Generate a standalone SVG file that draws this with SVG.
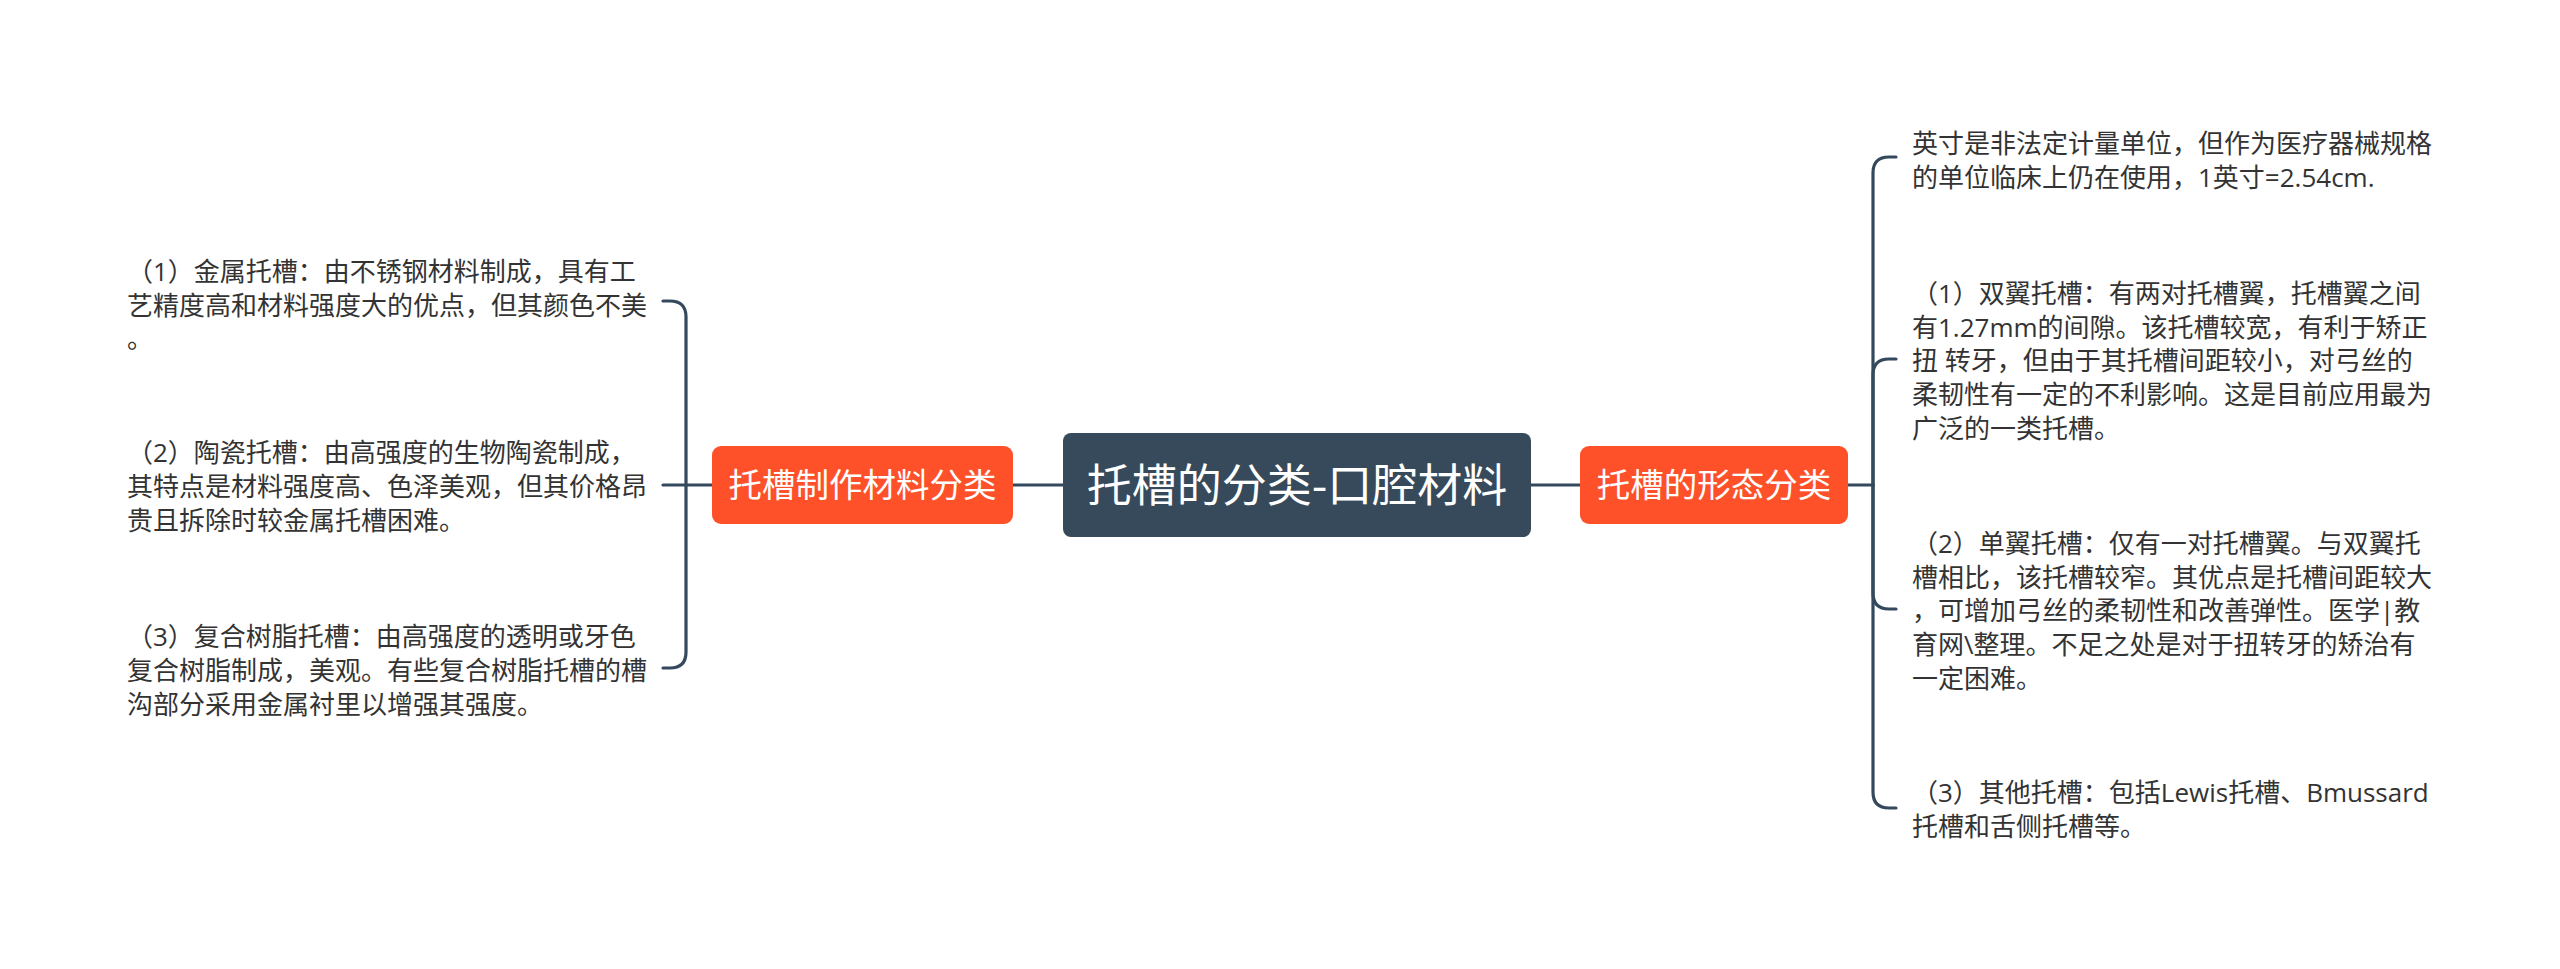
<svg xmlns="http://www.w3.org/2000/svg" width="2560" height="969" viewBox="0 0 2560 969">
<style>
.conn{fill:none;stroke:#34495e;stroke-width:3.2;stroke-linecap:round}
.txt{font-family:"Open Sans","Noto Sans CJK SC",sans-serif;font-size:26px;fill:#333333}
.ntxt{font-family:"Noto Sans CJK SC","Open Sans",sans-serif;fill:#ffffff;text-anchor:middle}
.branch{fill:#ff5129}
</style>
<rect x="0" y="0" width="2560" height="969" fill="#ffffff"/>
<g id="connectors">
<path class="conn" d="M1013 485 H1063"/>
<path class="conn" d="M1531 485 H1580"/>
<path class="conn" d="M712 485 H663"/>
<path class="conn" d="M686 485 V317 Q686 301 670 301 H663"/>
<path class="conn" d="M686 485 V652 Q686 668 670 668 H663"/>
<path class="conn" d="M1848 485 H1873"/>
<path class="conn" d="M1873 485 V173 Q1873 157 1889 157 H1896"/>
<path class="conn" d="M1873 485 V375 Q1873 359 1889 359 H1896"/>
<path class="conn" d="M1873 485 V593 Q1873 609 1889 609 H1896"/>
<path class="conn" d="M1873 485 V792 Q1873 808 1889 808 H1896"/>
</g>
<g id="center">
<rect x="1063" y="433" width="468" height="104" rx="8" fill="#374a5b"/>
<text class="ntxt" x="1297" y="502" font-size="45">托槽的分类-口腔材料</text>
</g>
<g id="branch-left">
<rect class="branch" x="712" y="446" width="301" height="78" rx="9"/>
<text class="ntxt" x="862.5" y="497" font-size="33.5">托槽制作材料分类</text>
</g>
<g id="branch-right">
<rect class="branch" x="1580" y="446" width="268" height="78" rx="9"/>
<text class="ntxt" x="1714" y="497" font-size="33.5">托槽的形态分类</text>
</g>
<g id="left-1">
<text class="txt" x="127" y="281">（1）金属托槽：由不锈钢材料制成，具有工</text>
<text class="txt" x="127" y="315">艺精度高和材料强度大的优点，但其颜色不美</text>
<text class="txt" x="127" y="348">。</text>
</g>
<g id="left-2">
<text class="txt" x="127" y="462">（2）陶瓷托槽：由高强度的生物陶瓷制成，</text>
<text class="txt" x="127" y="496">其特点是材料强度高、色泽美观，但其价格昂</text>
<text class="txt" x="127" y="530">贵且拆除时较金属托槽困难。</text>
</g>
<g id="left-3">
<text class="txt" x="127" y="646">（3）复合树脂托槽：由高强度的透明或牙色</text>
<text class="txt" x="127" y="680">复合树脂制成，美观。有些复合树脂托槽的槽</text>
<text class="txt" x="127" y="714">沟部分采用金属衬里以增强其强度。</text>
</g>
<g id="right-0">
<text class="txt" x="1912" y="153">英寸是非法定计量单位，但作为医疗器械规格</text>
<text class="txt" x="1912" y="187">的单位临床上仍在使用，1英寸=2.54cm.</text>
</g>
<g id="right-1">
<text class="txt" x="1912" y="303">（1）双翼托槽：有两对托槽翼，托槽翼之间</text>
<text class="txt" x="1912" y="337">有1.27mm的间隙。该托槽较宽，有利于矫正</text>
<text class="txt" x="1912" y="370">扭 转牙，但由于其托槽间距较小，对弓丝的</text>
<text class="txt" x="1912" y="404">柔韧性有一定的不利影响。这是目前应用最为</text>
<text class="txt" x="1912" y="438">广泛的一类托槽。</text>
</g>
<g id="right-2">
<text class="txt" x="1912" y="553">（2）单翼托槽：仅有一对托槽翼。与双翼托</text>
<text class="txt" x="1912" y="587">槽相比，该托槽较窄。其优点是托槽间距较大</text>
<text class="txt" x="1912" y="620">，可增加弓丝的柔韧性和改善弹性。医学|教</text>
<text class="txt" x="1912" y="654">育网\整理。不足之处是对于扭转牙的矫治有</text>
<text class="txt" x="1912" y="688">一定困难。</text>
</g>
<g id="right-3">
<text class="txt" x="1912" y="802">（3）其他托槽：包括Lewis托槽、Bmussard</text>
<text class="txt" x="1912" y="836">托槽和舌侧托槽等。</text>
</g>
</svg>
